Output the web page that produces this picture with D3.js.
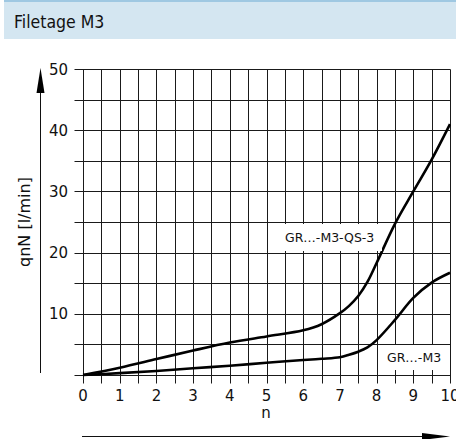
<!DOCTYPE html>
<html><head><meta charset="utf-8">
<script src="https://cdn.jsdelivr.net/npm/d3@7"></script>
<style>html,body{margin:0;padding:0;background:#fff;}svg{display:block;}</style>
</head><body>
<script>
const title = "Filetage M3";
const xLabel = "n";
const yLabel = "qnN [l/min]";
const xTicks = [0,1,2,3,4,5,6,7,8,9,10];
const yTicks = [0,10,20,30,40,50];
const nValues = [0,1,2,3,4,5,6,6.5,7,7.25,7.5,7.75,8,8.5,9,9.5,10];
const qsValues = [0,1.2,2.6,4.0,5.3,6.3,7.3,8.3,10.1,11.3,12.9,15.2,18.3,24.7,30,35.2,41];
const m3Values = [0,0.3,0.65,1.1,1.5,2.0,2.45,2.65,2.9,3.3,3.8,4.5,5.7,9.0,12.6,15.1,16.7];
const seriesNames = ["GR…-M3-QS-3","GR…-M3"];

const W=456,H=439;
const svg=d3.select("body").append("svg").attr("width",W).attr("height",H);
// header
svg.append("rect").attr("x",4).attr("y",0).attr("width",W-4).attr("height",39).attr("fill","#d4e6f1");
svg.append("rect").attr("x",4).attr("y",0).attr("width",W-4).attr("height",2).attr("fill","#9fc8e2");
svg.append("text").attr("x",14).attr("y",28).text(title)
  .attr("font-family","'Liberation Sans Narrow','DejaVu Sans Condensed',sans-serif").attr("font-size",17.5).attr("fill","#111");

const x=d3.scaleLinear([0,10],[83,450]);
const y=d3.scaleLinear([0,50],[375,69]);
const font="'DejaVu Sans',sans-serif";

const g=svg.append("g").attr("transform","translate(0.5,0.5)");
const vx=d3.range(0,10.001,0.5), hy=d3.range(0,50.001,5);
g.selectAll("line.v").data(vx).join("line")
  .attr("x1",d=>Math.round(x(d))).attr("x2",d=>Math.round(x(d)))
  .attr("y1",y(50)).attr("y2",y(0)+8).attr("stroke","#1a1a1a").attr("stroke-width",1);
g.selectAll("line.h").data(hy).join("line")
  .attr("y1",d=>Math.round(y(d))).attr("y2",d=>Math.round(y(d)))
  .attr("x1",x(0)-9).attr("x2",x(10)).attr("stroke","#1a1a1a").attr("stroke-width",1);

// curves
const line=d3.line().x((d,i)=>x(nValues[i])).y(d=>y(d)).curve(d3.curveCatmullRom.alpha(0.5));
[qsValues,m3Values].forEach(s=>{
  svg.append("path").attr("d",line(s)).attr("fill","none").attr("stroke","#000").attr("stroke-width",2.6).attr("stroke-linejoin","round");
});

// label boxes
function labelBox(txt,x0,y0,w,h,tx,ty){
  svg.append("rect").attr("x",x0).attr("y",y0).attr("width",w).attr("height",h).attr("fill","#fff");
  svg.append("text").attr("x",tx).attr("y",ty).text(txt).attr("font-family",font).attr("font-size",12.5).attr("fill","#111");
}
labelBox(seriesNames[0],274,224,108,27,285,242);
labelBox(seriesNames[1],381,345,68,25,387,362);

// tick labels
svg.selectAll("text.xt").data(xTicks).join("text").attr("x",d=>x(d)).attr("y",401).attr("text-anchor","middle")
  .text(d=>d).attr("font-family",font).attr("font-size",15).attr("fill","#111");
svg.selectAll("text.yt").data(yTicks.slice(1)).join("text").attr("x",68).attr("y",d=>y(d)+5.5).attr("text-anchor","end")
  .text(d=>d).attr("font-family",font).attr("font-size",15).attr("fill","#111");

// axis arrows
svg.append("line").attr("x1",40.5).attr("x2",40.5).attr("y1",373).attr("y2",90).attr("stroke","#111").attr("stroke-width",1);
svg.append("path").attr("d","M40.5,68 L44.5,93 L36.5,93 Z").attr("fill","#000");
svg.append("line").attr("x1",82).attr("x2",425).attr("y1",436.5).attr("y2",436.5).attr("stroke","#111").attr("stroke-width",1);
svg.append("path").attr("d","M450,436.5 L422,433 L422,440 Z").attr("fill","#000");

svg.append("text").attr("x",266).attr("y",418).attr("text-anchor","middle").text(xLabel)
  .attr("font-family",font).attr("font-size",15).attr("fill","#111");
svg.append("text").attr("transform","translate(30,222) rotate(-90)").attr("text-anchor","middle").text(yLabel)
  .attr("font-family",font).attr("font-size",16).attr("fill","#111");
</script>
</body></html>
